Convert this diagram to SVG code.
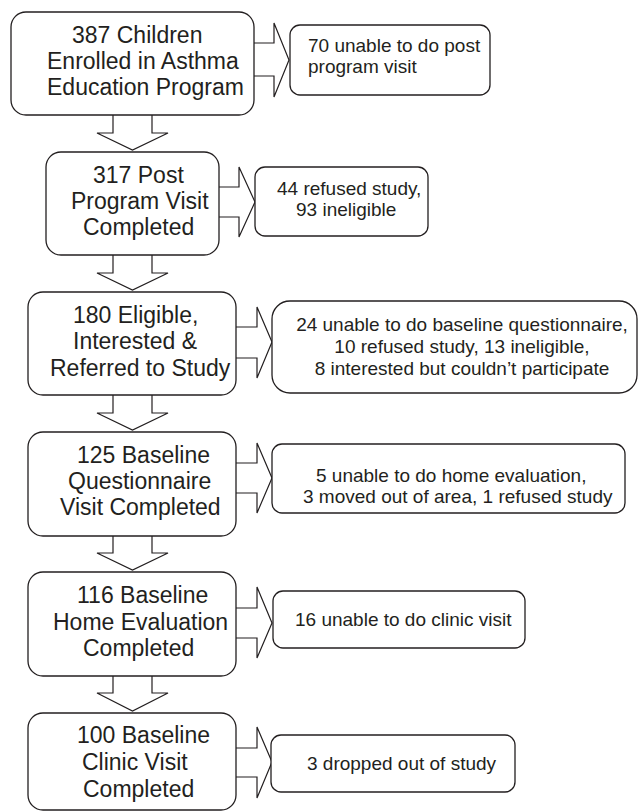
<svg xmlns="http://www.w3.org/2000/svg" width="638" height="812" viewBox="0 0 638 812">
<style>
.box{fill:#fff;stroke:#231f20;stroke-width:1.3}
.arr{fill:#fff;stroke:#231f20;stroke-width:1.2;stroke-linejoin:miter}
.m{font-family:"Liberation Sans",Arial,sans-serif;font-size:23px;fill:#231f20}
.s{font-family:"Liberation Sans",Arial,sans-serif;font-size:19px;fill:#231f20}
.c{text-anchor:middle}
</style>
<rect width="638" height="812" fill="#fff"/>
<g id="connectors">
<path class="arr" d="M113,114 V133 H97 L132.5,150 L168,133 H152 V114"/>
<path class="arr" d="M113,254 V273 H97 L132.5,290 L168,273 H152 V254"/>
<path class="arr" d="M113,394 V413 H97 L132.5,430 L168,413 H152 V394"/>
<path class="arr" d="M113,535 V553 H97 L132.5,570 L168,553 H152 V535"/>
<path class="arr" d="M113,675 V693 H97 L132.5,711 L168,693 H152 V675"/>
<path class="arr" d="M253,43 H274 V23 L289,60 L274,97 V76 H253"/>
<path class="arr" d="M218,187 H239 V167 L255,202 L239,237 V217 H218"/>
<path class="arr" d="M235,327 H257 V307 L272,342 L257,378 V358 H235"/>
<path class="arr" d="M235,463 H257 V443 L272,478 L257,513 V493 H235"/>
<path class="arr" d="M235,608 H257 V587 L272,623 L257,658 V638 H235"/>
<path class="arr" d="M235,748 H257 V727 L272,762 L257,798 V777 H235"/>
</g>
<g id="n1"><rect class="box" x="11" y="12" width="243" height="103" rx="15"/>
<text class="m" x="72" y="43">387 Children</text><text class="m" x="47" y="69">Enrolled in Asthma</text><text class="m" x="47" y="95">Education Program</text></g>
<g id="n2"><rect class="box" x="46" y="152" width="173" height="103" rx="15"/>
<text class="m" x="93" y="183">317 Post</text><text class="m" x="71" y="209">Program Visit</text><text class="m" x="83" y="235">Completed</text></g>
<g id="n3"><rect class="box" x="28" y="292" width="208" height="103" rx="15"/>
<text class="m" x="73" y="323">180 Eligible,</text><text class="m" x="73" y="349">Interested &amp;</text><text class="m" x="50" y="376">Referred to Study</text></g>
<g id="n4"><rect class="box" x="28" y="432" width="208" height="104" rx="15"/>
<text class="m" x="77" y="463">125 Baseline</text><text class="m" x="68" y="489">Questionnaire</text><text class="m" x="60" y="515">Visit Completed</text></g>
<g id="n5"><rect class="box" x="28" y="572" width="208" height="104" rx="15"/>
<text class="m" x="77" y="603">116 Baseline</text><text class="m" x="53" y="630">Home Evaluation</text><text class="m" x="83" y="656">Completed</text></g>
<g id="n6"><rect class="box" x="28" y="713" width="208" height="97" rx="15"/>
<text class="m" x="77" y="743">100 Baseline</text><text class="m" x="82" y="770">Clinic Visit</text><text class="m" x="83" y="797">Completed</text></g>
<g id="x1"><rect class="box" x="290" y="25" width="200" height="70" rx="10"/>
<text class="s" x="308" y="52">70 unable to do post</text><text class="s" x="308" y="73">program visit</text></g>
<g id="x2"><rect class="box" x="255" y="167" width="173" height="69" rx="10"/>
<text class="s" x="277" y="195">44 refused study,</text><text class="s" x="296" y="216">93 ineligible</text></g>
<g id="x3"><rect class="box" x="272" y="301" width="365" height="92" rx="18"/>
<text class="s c" x="462" y="331">24 unable to do baseline questionnaire,</text><text class="s c" x="462" y="353">10 refused study, 13 ineligible,</text><text class="s c" x="462" y="375">8 interested but couldn’t participate</text></g>
<g id="x4"><rect class="box" x="272" y="444" width="353" height="69" rx="10"/>
<text class="s" x="316" y="482">5 unable to do home evaluation,</text><text class="s" x="303" y="503">3 moved out of area, 1 refused study</text></g>
<g id="x5"><rect class="box" x="273" y="591" width="252" height="57" rx="10"/>
<text class="s" x="295" y="626">16 unable to do clinic visit</text></g>
<g id="x6"><rect class="box" x="271" y="735" width="244" height="57" rx="10"/>
<text class="s" x="307" y="770">3 dropped out of study</text></g>
</svg>
